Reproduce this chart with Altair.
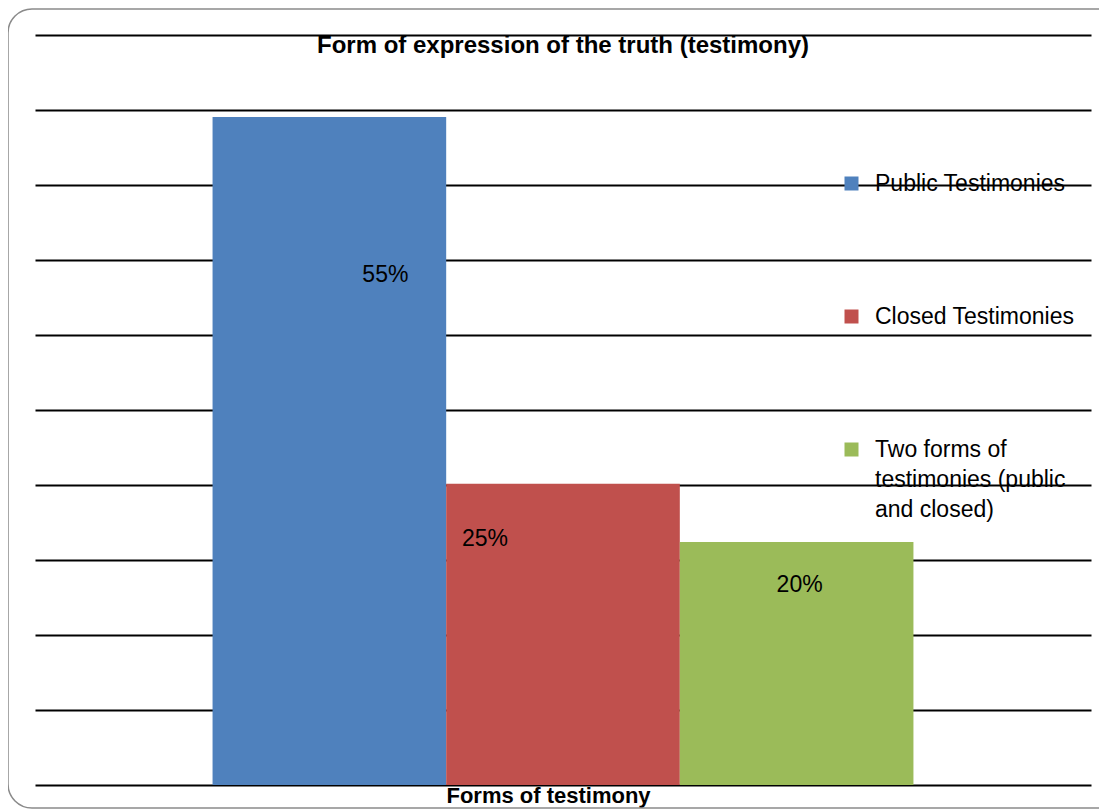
import altair as alt
import pandas as pd

categories = ["Public Testimonies", "Closed Testimonies", "Two forms of testimonies (public and closed)"]
values = [55, 24.8, 20]
value_labels = ["55%", "25%", "20%"]
colors = ["#4F81BD", "#C0504D", "#9BBB59"]
title_text = "Form of expression of the truth (testimony)"
x_title = "Forms of testimony"
grid_values = [0, 6.175, 12.35, 18.525, 24.7, 30.875, 37.05, 43.225, 49.4, 55.575, 61.75]

df = pd.DataFrame({"category": categories, "value": values, "label": value_labels})

FONT = "Liberation Sans"

x_enc = alt.X(
    "category:N",
    sort=categories,
    scale=alt.Scale(paddingInner=0, paddingOuter=0.76),
    axis=alt.Axis(title=x_title, labels=False, ticks=False, domain=False, grid=False,
                  titleFont=FONT, titleFontSize=22, titleFontWeight="bold",
                  titleColor="black", titlePadding=0, titleX=513),
)
y_enc = alt.Y(
    "value:Q",
    scale=alt.Scale(domain=[0, 61.75], nice=False, zero=True),
    axis=alt.Axis(title=None, labels=False, ticks=False, domain=False,
                  values=grid_values, grid=True, gridColor="black", gridWidth=2,
                  gridOpacity=1),
)

base = alt.Chart(df)

bars = base.mark_bar().encode(
    x=x_enc,
    y=y_enc,
    color=alt.Color(
        "category:N",
        sort=categories,
        scale=alt.Scale(domain=categories, range=colors),
        legend=alt.Legend(
            title=None, orient="none", legendX=805, legendY=137,
            symbolType="square", symbolSize=196, symbolStrokeWidth=0,
            symbolOpacity=1,
            labelFont=FONT, labelFontSize=23, labelColor="black",
            labelLimit=400, labelOffset=12, rowPadding=109, padding=0,
            labelExpr="datum.label == 'Two forms of testimonies (public and closed)' ? ['Two forms of', 'testimonies (public', 'and closed)'] : datum.label",
        ),
    ),
)

offsets = [(56, 158), (-78, 55), (3, 43)]
text_layers = []
for cat, (dx, dy) in zip(categories, offsets):
    t = base.transform_filter(alt.datum.category == cat).mark_text(
        font=FONT, fontSize=23, color="black", dx=dx, dy=dy, baseline="middle"
    ).encode(
        x=alt.X("category:N", sort=categories),
        y=alt.Y("value:Q"),
        text="label:N",
    )
    text_layers.append(t)

title_df = pd.DataFrame({"t": [title_text]})
title_layer = alt.Chart(title_df).mark_text(
    font=FONT, fontSize=24, fontWeight="bold", color="black", baseline="alphabetic", align="center"
).encode(text="t:N", x=alt.value(528), y=alt.value(18))

frame_df = pd.DataFrame({"f": [0]})
frame = alt.Chart(frame_df).mark_rect(
    fill="transparent", stroke="#8a8a8a", strokeWidth=1.5, cornerRadius=24
).encode(x=alt.value(-27), x2=alt.value(1300), y=alt.value(-26), y2=alt.value(773))

chart = alt.layer(frame, bars, *text_layers, title_layer).properties(
    width=1056, height=750,
    autosize=alt.AutoSizeParams(type="none"),
    padding={"left": 27, "top": 27, "right": 8, "bottom": 25},
).configure(
    background="white",
    style={"guide-label": {"lineHeight": 30}},
).configure_view(stroke="transparent", strokeWidth=0)

chart.save("out.html", embed_options={"renderer": "svg", "actions": False})
